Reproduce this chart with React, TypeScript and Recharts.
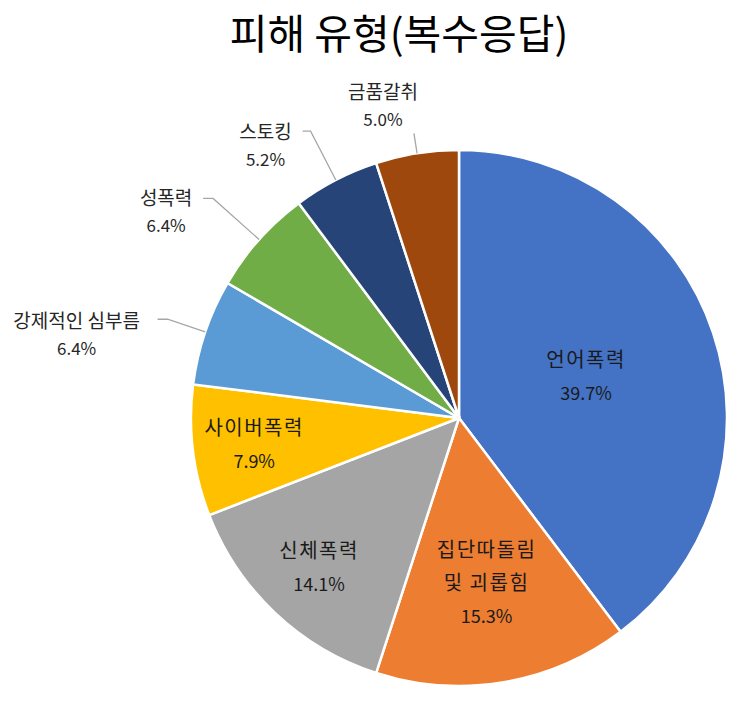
import React from 'react'
import { PieChart, Pie, Cell } from 'recharts'

const TITLE = '피해 유형(복수응답)'

const CATEGORIES = [
  '언어폭력',
  '집단따돌림\n및 괴롭힘',
  '신체폭력',
  '사이버폭력',
  '강제적인 심부름',
  '성폭력',
  '스토킹',
  '금품갈취',
]

const SHARES = [39.7, 15.3, 14.1, 7.9, 6.4, 6.4, 5.2, 5.0]

const COLORS = ['#4472C4', '#ED7D31', '#A5A5A5', '#FFC000', '#5B9BD5', '#70AD47', '#264478', '#9E480E']

// label layout per slice: inside labels sit at k * radius along the mid angle,
// outside labels get a leader line bending at elbowK * radius
const LABEL_LAYOUT: Array<
  | { inside: true; k: number }
  | { inside: false; elbowK: number; dx: number; dy: number; stub: number }
> = [
  { inside: true, k: 0.5 },
  { inside: true, k: 0.62 },
  { inside: true, k: 0.76 },
  { inside: true, k: 0.77 },
  { inside: false, elbowK: 1.148, dx: -91, dy: 0, stub: 10 },
  { inside: false, elbowK: 1.23, dx: -47, dy: -2, stub: 10 },
  { inside: false, elbowK: 1.205, dx: -45, dy: -1, stub: 8 },
  { inside: false, elbowK: 1.075, dx: -31, dy: -43, stub: 0 },
]

const data = CATEGORIES.map((name, i) => ({ name, value: SHARES[i] }))

const FONT = '"Noto Sans CJK KR", "Noto Sans", sans-serif'
const RAD = Math.PI / 180

function renderLabel(props: any) {
  const { cx, cy, midAngle, outerRadius, index } = props
  const layout = LABEL_LAYOUT[index]
  const lines = [...CATEGORIES[index].split('\n'), SHARES[index].toFixed(1) + '%']
  const last = lines.length - 1
  const cos = Math.cos(-midAngle * RAD)
  const sin = Math.sin(-midAngle * RAD)

  if (layout.inside) {
    const x = cx + outerRadius * layout.k * cos
    const y = cy + outerRadius * layout.k * sin
    const gap = 33
    const top = y - (last * gap) / 2
    return (
      <g key={index}>
        {lines.map((t, j) => (
          <text key={j} x={x} y={top + j * gap} textAnchor="middle" dominantBaseline="central"
            fontFamily={FONT} fontSize={j === last ? 18 : 20} letterSpacing={j === last ? 0 : 1.5}
            fill="#1a1a1a">
            {t}
          </text>
        ))}
      </g>
    )
  }

  const ex = cx + outerRadius * cos
  const ey = cy + outerRadius * sin
  const bx = cx + outerRadius * layout.elbowK * cos
  const by = cy + outerRadius * layout.elbowK * sin
  const tx = bx + layout.dx
  const ty = by + layout.dy
  return (
    <g key={index}>
      <polyline points={`${bx - layout.stub},${by} ${bx},${by} ${ex},${ey}`}
        fill="none" stroke="#A6A6A6" strokeWidth={1.3} />
      {lines.map((t, j) => (
        <text key={j} x={tx} y={ty + j * 28} textAnchor="middle" dominantBaseline="central"
          fontFamily={FONT} fontSize={j === last ? 17 : 19} fill="#262626">
          {t}
        </text>
      ))}
    </g>
  )
}

export default function App() {
  return (
    <div style={{ position: 'fixed', left: 0, top: 0, width: 745, height: 701, background: '#fff' }}>
      <div style={{
        position: 'absolute', left: 0, top: 4, width: 798, textAlign: 'center',
        fontFamily: FONT, fontSize: 41, color: '#000', lineHeight: '54px',
      }}>
        {TITLE}
      </div>
      <PieChart width={745} height={701} margin={{ top: 0, right: 0, bottom: 0, left: 0 }}>
        <Pie
          data={data}
          dataKey="value"
          nameKey="name"
          cx={459}
          cy={418}
          outerRadius={268}
          startAngle={90}
          endAngle={-270}
          stroke="#fff"
          strokeWidth={2.5}
          label={renderLabel}
          labelLine={false}
          isAnimationActive={false}
        >
          {data.map((_, i) => (
            <Cell key={i} fill={COLORS[i]} />
          ))}
        </Pie>
      </PieChart>
    </div>
  )
}
